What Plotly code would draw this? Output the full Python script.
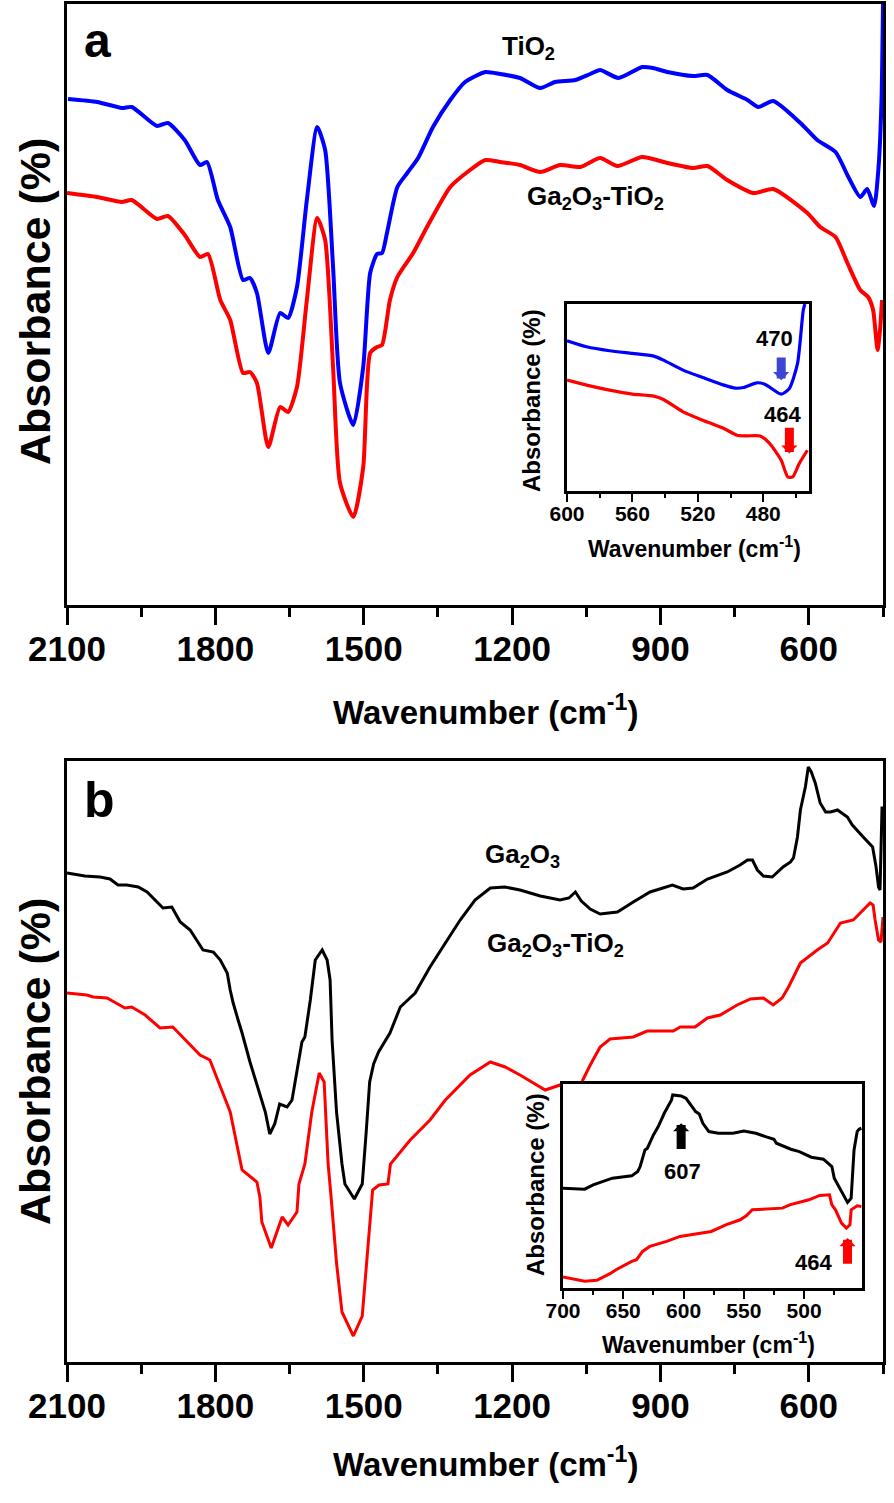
import plotly.graph_objects as go

W, H = 894, 1503

# ---------------- data (wavenumber cm-1, absorbance a.u.) ----------------
# Panel a
a_tio2_wn = [2098, 2039, 1989, 1969, 1918, 1896, 1862, 1831, 1817, 1795, 1770, 1744, 1730, 1716, 1693,
             1669, 1653, 1635, 1615, 1594, 1578, 1562, 1548, 1521, 1501, 1487, 1473, 1463, 1453, 1432,
             1412, 1390, 1360, 1325, 1295, 1254, 1224, 1184, 1143, 1113, 1072, 1042, 1022, 985, 937,
             915, 886, 834, 805, 765, 724, 702, 672, 617, 583, 546, 520, 496, 482, 468, 459, 453, 450]
a_tio2_abs = [506, 503, 497, 498, 479, 482, 465, 440, 443, 405, 378, 325, 327, 312, 252,
              292, 287, 318, 405, 478, 455, 338, 222, 180, 238, 332, 351, 352, 372, 418,
              432, 447, 478, 505, 523, 533, 531, 527, 517, 523, 525, 531, 535, 527, 538,
              537, 533, 529, 530, 515, 505, 498, 504, 482, 465, 453, 428, 408, 416, 399, 438, 505, 601]

a_gt_wn = [2100, 2039, 1989, 1969, 1918, 1896, 1862, 1831, 1815, 1790, 1770, 1744, 1730, 1716, 1693,
           1669, 1653, 1635, 1615, 1594, 1578, 1562, 1548, 1521, 1501, 1487, 1473, 1463, 1447, 1432,
           1400, 1372, 1325, 1285, 1254, 1224, 1184, 1143, 1103, 1062, 1022, 987, 937, 886, 834,
           805, 765, 712, 672, 603, 577, 546, 522, 496, 480, 470, 461, 456, 452]
a_gt_abs = [412, 408, 403, 405, 386, 389, 370, 348, 351, 305, 285, 232, 233, 222, 158,
            198, 193, 218, 305, 387, 365, 238, 122, 88, 138, 252, 258, 260, 305, 328,
            352, 378, 418, 435, 445, 443, 440, 433, 440, 438, 447, 439, 448, 442, 437,
            439, 425, 412, 416, 392, 378, 368, 342, 315, 308, 295, 255, 275, 305]

# Panel a inset (600-450 cm-1)
ai_tio2_wn = [600, 588, 574, 560, 547, 541, 529, 517, 504, 497, 492, 484, 479, 469, 464, 459, 455.5, 454.5]
ai_tio2_abs = [450, 432, 420, 412, 404, 392, 362, 340, 317, 308, 310, 324, 320, 290, 307, 382, 542, 560]
ai_gt_wn = [600, 588, 574, 560, 547, 541, 529, 517, 504, 496, 490, 482, 476, 469, 465, 462, 458, 453]
ai_gt_abs = [332, 317, 302, 290, 284, 274, 237, 212, 187, 167, 165, 165, 142, 92, 42, 42, 82, 122]

# Panel b
b_ga_wn = [2100, 2064, 2033, 2013, 1997, 1979, 1956, 1938, 1906, 1888,
           1871, 1851, 1825, 1804, 1790, 1776, 1770, 1764, 1754, 1746,
           1730, 1714, 1699, 1690, 1680, 1670, 1655, 1645, 1636, 1625,
           1619, 1608, 1598, 1584, 1574, 1568, 1564, 1555, 1544, 1538,
           1519, 1503, 1495, 1488, 1480, 1470, 1447, 1426, 1396, 1366,
           1331, 1305, 1275, 1244, 1215, 1184, 1143, 1103, 1085, 1072,
           1060, 1042, 1022, 987, 955, 921, 876, 854, 834, 805,
           765, 739, 724, 714, 704, 692, 674, 652, 637, 631,
           623, 617, 607, 601, 595, 587, 577, 566, 556, 542,
           522, 512, 490, 471, 464, 459, 456, 454, 452, 450]
b_ga_abs = [489, 486, 485, 483, 477, 477, 475, 470, 454, 455,
            440, 432, 412, 410, 402, 389, 372, 359, 342, 329,
            300, 275, 250, 228, 238, 258, 255, 262, 290, 320,
            325, 362, 402, 412, 402, 382, 322, 250, 198, 178,
            163, 178, 230, 280, 298, 310, 329, 355, 369, 395,
            422, 442, 462, 474, 475, 472, 466, 462, 464, 470,
            461, 453, 448, 450, 460, 470, 477, 473, 474, 483,
            490, 497, 502, 502, 492, 486, 485, 495, 500, 504,
            525, 552, 575, 595, 590, 579, 559, 550, 550, 552,
            545, 537, 525, 515, 495, 475, 472, 525, 554, 554]

b_gt_wn = [2100, 2060, 2047, 2019, 1983, 1969, 1942, 1912, 1886, 1865,
           1831, 1811, 1790, 1770, 1746, 1730, 1716, 1710, 1706, 1687,
           1675, 1665, 1653, 1635, 1631, 1619, 1605, 1590, 1580, 1572,
           1566, 1555, 1544, 1521, 1503, 1491, 1482, 1469, 1451, 1446,
           1406, 1366, 1335, 1285, 1244, 1214, 1184, 1133, 1103, 1072,
           1042, 1022, 1002, 955, 927, 874, 860, 830, 805, 779,
           745, 718, 692, 672, 654, 641, 631, 617, 583, 562,
           536, 510, 476, 470, 466, 459, 454, 450]
b_gt_abs = [369, 367, 365, 364, 354, 355, 347, 334, 335, 324,
            307, 302, 275, 250, 192, 186, 180, 165, 140, 114,
            132, 145, 137, 150, 178, 198, 250, 289, 280, 198,
            165, 99, 50, 26, 46, 116, 172, 177, 178, 198,
            222, 242, 262, 287, 300, 295, 287, 272, 277, 267,
            297, 315, 323, 325, 331, 331, 335, 335, 344, 347,
            357, 363, 364, 357, 364, 375, 385, 399, 412, 419,
            439, 442, 459, 457, 442, 422, 420, 445]

# Panel b inset (700-450 cm-1)
bi_ga_wn = [700, 682, 675, 659, 643, 638, 636, 634, 632, 630,
            625, 621, 616, 610, 609, 602, 598, 590, 587, 584,
            579, 571, 559, 550, 540, 532, 525, 523, 515, 511,
            504, 494, 484, 477, 475, 469, 464, 461, 458.6, 456, 454.5, 452.5]
bi_ga_abs = [300, 297, 310, 330, 337, 350, 365, 390, 415, 420,
             460, 485, 525, 565, 580, 577, 570, 530, 523, 495,
             470, 465, 465, 472, 465, 455, 447, 435, 423, 417,
             410, 393, 387, 365, 330, 290, 257, 270, 415, 470, 477, 480]
bi_gt_wn = [700, 682, 672, 661, 656, 650, 643, 639, 634, 628,
            614, 603, 587, 577, 565, 553, 548, 543, 518, 512,
            496, 487, 479, 477, 474, 469, 465, 462, 461, 456, 452.5]
bi_gt_abs = [33, 20, 23, 43, 55, 67, 80, 85, 110, 125,
             140, 155, 165, 170, 190, 205, 217, 235, 240, 250,
             265, 278, 280, 250, 235, 195, 180, 190, 235, 247, 245]

main_ticks = [2100, 1800, 1500, 1200, 900, 600]
ia_ticks = [600, 560, 520, 480]
ib_ticks = [700, 650, 600, 550, 500]

# ---------------- styling ----------------
REG = "Liberation Sans, Arial, sans-serif"
BLUE, RED, BLACK = "#0000ff", "#ff0000", "#000000"


def dx(p):
    return p / W


def dy(p):
    return 1 - p / H


fig = go.Figure()


def line(x, y, color, width, ax, smooth):
    fig.add_trace(go.Scatter(
        x=x, y=y, mode="lines", xaxis="x" + ax, yaxis="y" + ax, showlegend=False,
        hoverinfo="skip",
        line=dict(color=color, width=width, shape="spline" if smooth else "linear",
                  smoothing=0.6 if smooth else None)))


line(a_tio2_wn, a_tio2_abs, BLUE, 4, "", True)
line(a_gt_wn, a_gt_abs, RED, 4, "", True)
line(ai_tio2_wn, ai_tio2_abs, BLUE, 3.2, "3", True)
line(ai_gt_wn, ai_gt_abs, RED, 3.2, "3", True)
line(b_ga_wn, b_ga_abs, BLACK, 3, "2", False)
line(b_gt_wn, b_gt_abs, RED, 3, "2", False)
line(bi_ga_wn, bi_ga_abs, BLACK, 3, "4", False)
line(bi_gt_wn, bi_gt_abs, RED, 3, "4", False)


def xax(domain, anchor, rng, ticks, minor_dt, big):
    return dict(
        domain=domain, anchor=anchor, range=rng, tickvals=ticks, automargin=False,
        ticks="outside", ticklen=17 if big else 8, tickwidth=3 if big else 2, tickcolor=BLACK,
        ticklabelstandoff=-6,
        minor=dict(dtick=minor_dt, tick0=0, ticks="outside", ticklen=9 if big else 4,
                   tickwidth=3 if big else 2, tickcolor=BLACK, showgrid=False),
        showline=True, linecolor=BLACK, linewidth=3 if big else 2.5, mirror=True,
        showgrid=False, zeroline=False,
        tickfont=dict(family=REG, size=35 if big else 21, color=BLACK, weight="bold"),
    )


def yax(domain, anchor, rng, big):
    return dict(domain=domain, anchor=anchor, range=rng, showticklabels=False, ticks="",
                automargin=False,
                showline=True, linecolor=BLACK, linewidth=3 if big else 2.5, mirror=True,
                showgrid=False, zeroline=False)


fig.update_layout(
    width=W, height=H, margin=dict(l=0, r=0, t=0, b=0, pad=0, autoexpand=False),
    paper_bgcolor="white", plot_bgcolor="white",
    xaxis=xax([dx(67), dx(883)], "y", [2100, 450], main_ticks, 150, True),
    yaxis=yax([dy(605), dy(4)], "x", [0, 601], True),
    xaxis2=xax([dx(67), dx(883)], "y2", [2100, 450], main_ticks, 150, True),
    yaxis2=yax([dy(1362), dy(761)], "x2", [0, 601], True),
    xaxis3=xax([dx(567), dx(809)], "y3", [600, 452], ia_ticks, 20, False),
    yaxis3=yax([dy(491), dy(304)], "x3", [0, 560], False),
    xaxis4=xax([dx(563), dx(862)], "y4", [700, 452], ib_ticks, 25, False),
    yaxis4=yax([dy(1288), dy(1084)], "x4", [0, 613], False),
)

ann = []


def text(t, x, y, size, angle=0, xref="paper", yref="paper"):
    ann.append(dict(text="<b>" + t + "</b>", x=x, y=y, xref=xref, yref=yref, showarrow=False,
                    textangle=angle, xanchor="center", yanchor="middle",
                    font=dict(family=REG, size=size, color=BLACK)))


WN_TITLE = "Wavenumber (cm<sup>-1</sup>)"
ABS_TITLE = "Absorbance (%)"
# main titles
text(WN_TITLE, dx(485), dy(710), 33)
text(WN_TITLE, dx(485), dy(1462), 33)
text(ABS_TITLE, dx(35), dy(302), 43, -90)
text(ABS_TITLE, dx(35), dy(1062), 43, -90)
# inset titles
text(WN_TITLE, dx(694), dy(547), 23)
text(WN_TITLE, dx(708), dy(1343), 23)
text(ABS_TITLE, dx(532), dy(401), 24, -90)
text(ABS_TITLE, dx(535), dy(1185), 24, -90)
# panel letters
text("a", dx(97), dy(40), 48)
text("b", dx(99), dy(800), 50)
# curve labels
text("TiO<sub>2</sub>", dx(528), dy(47), 26)
text("Ga<sub>2</sub>O<sub>3</sub>-TiO<sub>2</sub>", dx(595), dy(197), 26)
text("Ga<sub>2</sub>O<sub>3</sub>", dx(522), dy(855), 26)
text("Ga<sub>2</sub>O<sub>3</sub>-TiO<sub>2</sub>", dx(555), dy(945), 26)
# inset peak labels
text("470", 473, 457, 22, 0, "x3", "y3")
text("464", 468, 230, 22, 0, "x3", "y3")
text("607", 601, 350, 22, 0, "x4", "y4")
text("464", 492, 77, 22, 0, "x4", "y4")


def arrow(x, y_head, y_tail, color, ax):
    ann.append(dict(text=" ", x=x, y=y_head, ax=x, ay=y_tail, xref="x" + ax, yref="y" + ax,
                    axref="x" + ax, ayref="y" + ax, showarrow=True, arrowhead=1,
                    arrowsize=0.3, arrowwidth=9, arrowcolor=color,
                    font=dict(family=REG, size=2, color=color)))


arrow(469, 332, 407, "#3c46d2", "3")
arrow(464, 112, 197, RED, "3")
arrow(602, 495, 410, BLACK, "4")
arrow(464, 150, 65, RED, "4")

fig.update_layout(annotations=ann)
fig.write_html("out.html", config={"displayModeBar": False},
               post_script="document.body.style.margin='0';")
